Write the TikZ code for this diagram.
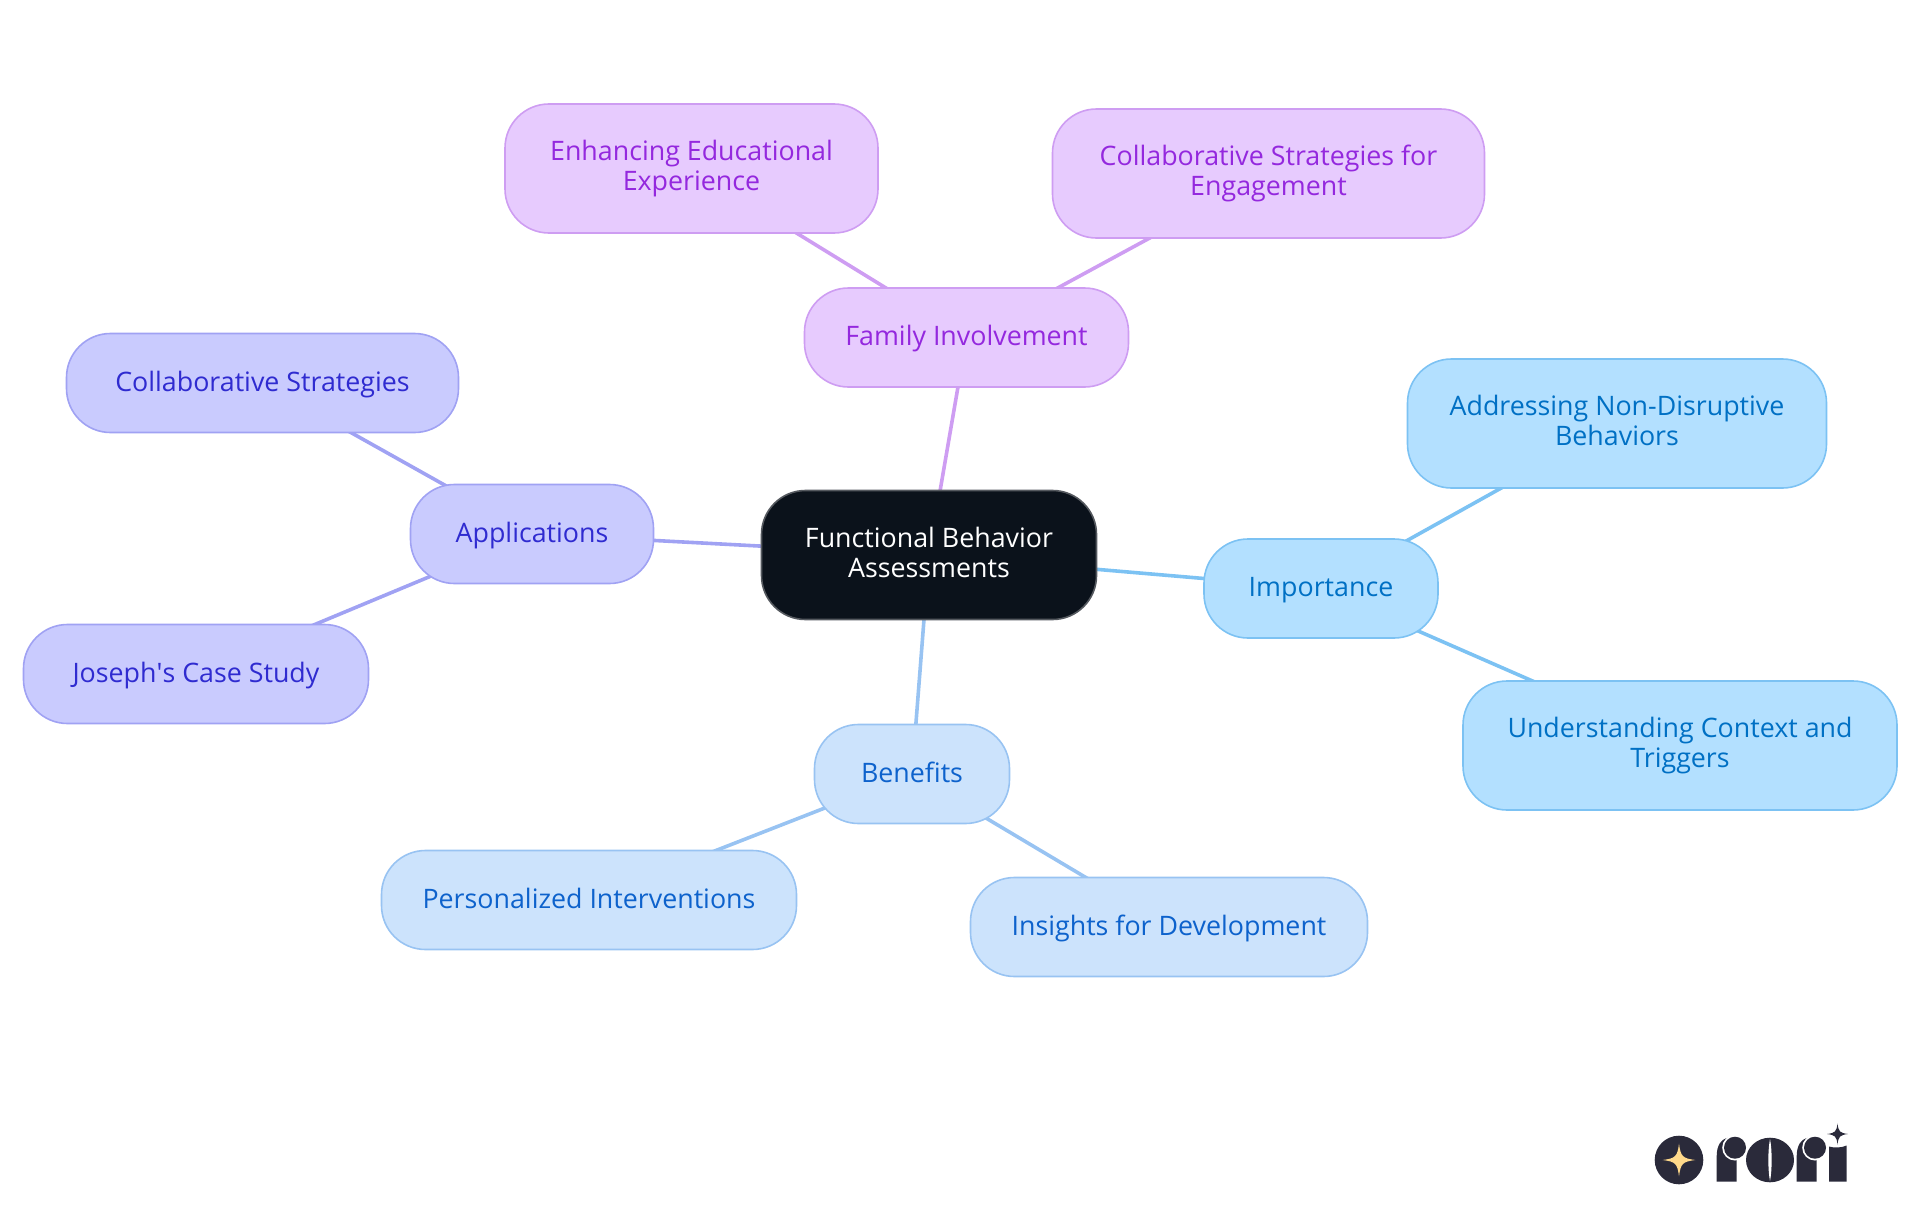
\documentclass[tikz,border=0pt]{standalone}
\usepackage{fontspec}
\setmainfont{Open Sans}[Ligatures=ResetAll]
\usetikzlibrary{backgrounds}
\definecolor{rootfill}{HTML}{0B121B}
\definecolor{rootline}{HTML}{55595F}
\definecolor{impfill}{HTML}{B3E0FF}
\definecolor{impline}{HTML}{7CC2F3}
\definecolor{imptext}{HTML}{0070C4}
\definecolor{benfill}{HTML}{CCE3FC}
\definecolor{benline}{HTML}{98C3F2}
\definecolor{bentext}{HTML}{0D62CC}
\definecolor{appfill}{HTML}{C9CBFE}
\definecolor{appline}{HTML}{A0A2F3}
\definecolor{apptext}{HTML}{2F2BD0}
\definecolor{famfill}{HTML}{E7CBFE}
\definecolor{famline}{HTML}{CE9DF2}
\definecolor{famtext}{HTML}{9428DE}
\definecolor{logodark}{HTML}{2A2A3A}
\definecolor{logostar}{HTML}{FFD98A}
\newcommand{\fourstar}[4]{%
  \fill[#4] (#1+#3,#2) .. controls (#1+0.22*#3,#2+0.1*#3) and (#1+0.1*#3,#2+0.22*#3) .. (#1,#2+#3)
   .. controls (#1-0.1*#3,#2+0.22*#3) and (#1-0.22*#3,#2+0.1*#3) .. (#1-#3,#2)
   .. controls (#1-0.22*#3,#2-0.1*#3) and (#1-0.1*#3,#2-0.22*#3) .. (#1,#2-#3)
   .. controls (#1+0.1*#3,#2-0.22*#3) and (#1+0.22*#3,#2-0.1*#3) .. (#1+#3,#2) -- cycle;}
\newcommand{\logor}[1]{%
  \fill[logodark] (#1,1181.7) -- (#1,1156) .. controls (#1,1146) and (#1+4,1139) .. (#1+11.6,1137.7)
    -- (#1+20,1140) -- (#1+20,1181.7) -- cycle;
  \fill[white] (#1+18.3,1147.7) circle[radius=12.8];
  \fill[logodark] (#1+18.3,1147.7) circle[radius=11];}
\newcommand{\boxstrut}{\rule[-8pt]{0pt}{32pt}}
\newcommand{\twol}[2]{\raisebox{-2pt}{#1}\\\raisebox{-2pt}{#2}}
\tikzset{
  x=1pt,y=-1pt,
  box/.style={rectangle,rounded corners=44pt,line width=1.6pt,inner sep=0pt,outer sep=0pt,align=center,font=\fontsize{26.8}{30}\selectfont,execute at begin node=\boxstrut,execute at end node=\boxstrut},
  rootbox/.style={box,fill=rootfill,draw=rootline,text=white},
  impbox/.style={box,fill=impfill,draw=impline,text=imptext},
  benbox/.style={box,fill=benfill,draw=benline,text=bentext},
  appbox/.style={box,fill=appfill,draw=appline,text=apptext},
  fambox/.style={box,fill=famfill,draw=famline,text=famtext},
  link/.style={line width=3.6pt},
}
\begin{document}
\begin{tikzpicture}
\useasboundingbox (0,0) rectangle (1920,1215);
\node[rootbox,minimum width=335pt,minimum height=129pt] (root) at (929,555) {\twol{Functional Behavior}{Assessments}};
\node[impbox,minimum width=234pt,minimum height=99pt] (imp) at (1321,588.5) {Importance};
\node[impbox,minimum width=419pt,minimum height=129pt] (addr) at (1617,423.5) {\twol{Addressing Non-Disruptive}{Behaviors}};
\node[impbox,minimum width=434pt,minimum height=129pt] (ctx) at (1680,745.5) {\twol{Understanding Context and}{Triggers}};
\node[benbox,minimum width=195pt,minimum height=99pt] (ben) at (912,774) {Benefits};
\node[benbox,minimum width=415pt,minimum height=99pt] (pers) at (589,900) {Personalized Interventions};
\node[benbox,minimum width=397pt,minimum height=99pt] (ins) at (1169,927) {Insights for Development};
\node[appbox,minimum width=243pt,minimum height=99pt] (app) at (532,534) {Applications};
\node[appbox,minimum width=392pt,minimum height=99pt] (col) at (262.5,383) {Collaborative Strategies};
\node[appbox,minimum width=345pt,minimum height=99pt] (jos) at (196,674) {Joseph\textquotesingle s Case Study};
\node[fambox,minimum width=324pt,minimum height=99pt] (fam) at (966.5,337.5) {Family Involvement};
\node[fambox,minimum width=373pt,minimum height=129pt] (enh) at (691.5,168.5) {\twol{Enhancing Educational}{Experience}};
\node[fambox,minimum width=432pt,minimum height=129pt] (eng) at (1268.5,173.5) {\twol{Collaborative Strategies for}{Engagement}};
\begin{pgfonlayer}{background}
\draw[link,impline] (root.center) -- (imp.center);
\draw[link,impline] (imp.center) -- (addr.center);
\draw[link,impline] (imp.center) -- (ctx.center);
\draw[link,benline] (root.center) -- (ben.center);
\draw[link,benline] (ben.center) -- (pers.center);
\draw[link,benline] (ben.center) -- (ins.center);
\draw[link,appline] (root.center) -- (app.center);
\draw[link,appline] (app.center) -- (col.center);
\draw[link,appline] (app.center) -- (jos.center);
\draw[link,famline] (root.center) -- (fam.center);
\draw[link,famline] (fam.center) -- (enh.center);
\draw[link,famline] (fam.center) -- (eng.center);
\end{pgfonlayer}
% logo
\fill[logodark] (1679,1160) circle[radius=24.3];
\fourstar{1679}{1160}{16.3}{logostar}
\logor{1716.7}
\logor{1796.7}
\fill[logodark] (1770,1160) ellipse[x radius=24,y radius=22.3];
\fill[white] (1770,1139) .. controls (1767.8,1150) and (1767.8,1170) .. (1770,1181) .. controls (1772.2,1170) and (1772.2,1150) .. (1770,1139) -- cycle;
\fill[logodark] (1829,1181.7) -- (1829,1146.5) .. controls (1834,1148) and (1841,1148) .. (1846.7,1145.5) -- (1846.7,1181.7) -- cycle;
\fourstar{1837.5}{1134}{10.5}{logodark}
\end{tikzpicture}
\end{document}
